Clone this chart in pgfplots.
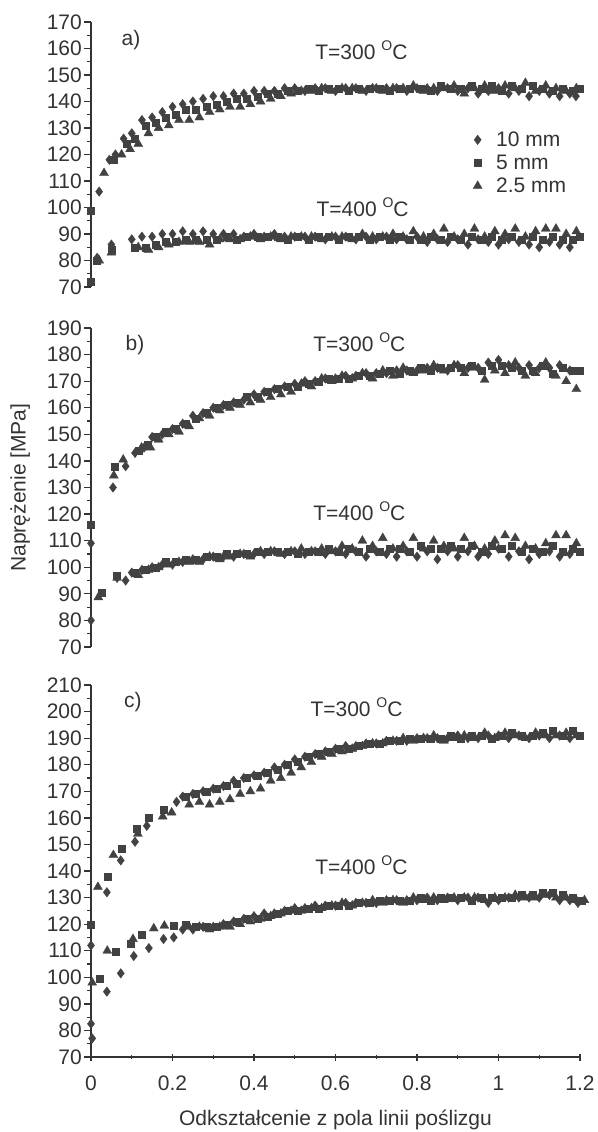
\documentclass[border=0pt]{standalone}
\usepackage{fontspec}
\setmainfont{Liberation Sans}
\usepackage{pgfplots}
\usepackage{pgfplotstable}
\pgfplotsset{compat=1.18}
\definecolor{ink}{HTML}{333333}
\definecolor{mk}{HTML}{424242}

\pgfplotstableread{
x d s t
-0.008 nan 99 nan
0.020 106 nan nan
0.016 nan nan 113
0.045 118 nan nan
0.047 nan 118 nan
0.060 120 nan nan
0.059 nan nan 120
0.080 126 124 122
0.100 128 126 124
0.125 133 131 128
0.150 134 132 130
0.175 136 134 131
0.200 138 135 133
0.225 139 137 133
0.250 140 137 134
0.275 141 138 136
0.300 142 139 137
0.325 142 140 138
0.350 143 141 138
0.375 143 141 139
0.400 144 142 140
0.425 144 143 141
0.450 144 143 142
0.475 145 144 143
0.500 145 144 144
0.525 144 145 144
0.550 145 144 145
0.575 145 145 144
0.600 144 145 145
0.625 145 144 145
0.650 145 145 144
0.675 144 145 145
0.700 145 145 144
0.725 145 144 145
0.750 145 145 145
0.775 144 145 146
0.800 145 145 144
0.825 145 144 145
0.850 144 146 145
0.875 145 145 146
0.900 144 145 143
0.925 145 146 145
0.950 143 145 146
0.975 144 146 144
1.000 145 144 146
1.025 143 146 145
1.050 144 145 147
1.075 142 146 144
1.100 144 145 146
1.125 143 144 145
1.150 142 145 144
1.175 143 144 145
1.190 142 145 nan
}\aH

\pgfplotstableread{
x d s t
-0.008 nan 72 nan
0.015 81 nan nan
0.004 nan nan 80
0.007 nan 80 nan
0.050 86 nan nan
0.042 nan 84 nan
0.034 nan nan 83
0.100 88 85 85
0.125 89 85 84
0.150 89 86 85
0.175 90 87 86
0.200 90 87 87
0.225 91 88 87
0.250 90 88 87
0.275 91 88 86
0.300 90 88 88
0.325 90 89 88
0.350 90 88 88
0.375 89 89 89
0.400 90 89 88
0.425 89 89 89
0.450 90 89 88
0.475 89 88 89
0.500 89 89 89
0.525 89 88 89
0.550 89 89 88
0.575 88 89 89
0.600 89 88 89
0.625 89 89 88
0.650 88 89 90
0.675 89 88 89
0.700 88 89 89
0.725 89 88 90
0.750 88 89 89
0.775 88 88 91
0.800 89 88 89
0.825 87 89 90
0.850 88 88 92
0.875 87 89 89
0.900 88 88 90
0.925 86 89 92
0.950 88 88 89
0.975 87 89 91
1.000 86 88 90
1.025 88 89 92
1.050 87 88 89
1.075 86 89 91
1.100 85 88 92
1.125 87 89 92
1.150 86 88 90
1.175 85 88 91
1.192 nan 89 nan
}\aL

\pgfplotstableread{
x d s t
-0.008 nan 116 nan
0.000 109 nan nan
0.054 130 nan nan
0.040 nan nan 134.5
0.050 nan 138 nan
0.063 nan nan 140.5
0.085 138 nan nan
0.108 143 144 145
0.130 145 146 145
0.150 149 149 148
0.175 150 151 150
0.200 152 152 151
0.225 154 154 153
0.250 157 156 156
0.275 158 158 157
0.300 160 160 159
0.325 161 161 160
0.350 162 162 161
0.375 163 164 162
0.400 165 164 163
0.425 166 166 164
0.450 167 167 165
0.475 168 168 166
0.500 169 168 169
0.525 170 169 168
0.550 170 170 171
0.575 171 171 170
0.600 171 171 172
0.625 172 171 171
0.650 172 172 173
0.675 173 172 171
0.700 173 173 174
0.725 173 174 172
0.750 174 173 175
0.775 174 174 173
0.800 174 175 174
0.825 175 174 176
0.850 175 175 174
0.875 174 175 176
0.900 176 175 173
0.925 175 176 175
0.950 175 174 170.5
0.975 177 176 174
1.000 178 176 173
1.025 176 175 177
1.050 175 174 172
1.075 176 174 173
1.100 175 176 177
1.125 175 173 172
1.150 176 175 170
1.175 174 174 167
1.192 nan 174 nan
}\bH

\pgfplotstableread{
x d s t
0.000 80 nan nan
0.018 nan 90.6 nan
0.002 nan nan 88.7
0.064 96 nan nan
0.056 nan 97 nan
0.048 nan nan 96
0.085 95 nan nan
0.100 98 98 97
0.125 99 99 99
0.150 100 100 100
0.175 101 102 101
0.200 101 102 102
0.225 102 103 102
0.250 103 103 102
0.275 103 104 104
0.300 104 104 103
0.325 104 105 104
0.350 104 105 105
0.375 105 105 104
0.400 105 106 106
0.425 105 106 106
0.450 106 106 105
0.475 105 106 106
0.500 106 105 107
0.525 105 106 106
0.550 106 106 107
0.575 105 107 106
0.600 106 106 108
0.625 105 107 107
0.650 106 106 110
0.675 104 107 108
0.700 106 106 111
0.725 105 107 107
0.750 104 107 108
0.775 106 106 111
0.800 104 108 107
0.825 106 107 110
0.850 103 107 108
0.875 106 108 107
0.900 104 107 111
0.925 106 108 108
0.950 104 106 107
0.975 105 108 110
1.000 107 107 112
1.025 104 108 111
1.050 106 106 108
1.075 103 107 107
1.100 105 106 109
1.125 106 108 112
1.150 104 106 112
1.175 105 107 109
1.192 nan 106 nan
}\bL

\pgfplotstableread{
x d s t
0.001 nan nan 134
0.039 132 nan nan
0.034 nan 138 nan
0.039 nan nan 146
0.073 144 nan nan
0.067 nan 148.5 nan
0.108 151 nan nan
0.105 nan 156 nan
0.099 nan nan 154
0.137 157 nan nan
0.134 nan 160 nan
0.160 nan nan 160.5
0.171 nan 163 nan
0.182 nan nan 162
0.210 166 nan nan
0.225 168 168 165
0.250 169 169 166
0.275 170 170 165
0.300 171 171 166
0.325 172 172 167
0.350 174 173 169
0.375 175 175 170
0.400 176 176 171
0.425 177 177 174
0.450 179 178 175
0.475 180 180 177
0.500 182 181 179
0.525 183 183 181
0.550 184 184 183
0.575 185 185 184
0.600 186 186 185
0.625 187 186 186
0.650 187 187 187
0.675 188 188 188
0.700 188 188 188
0.725 189 189 189
0.750 189 189 190
0.775 189 190 189
0.800 190 190 190
0.825 190 190 191
0.850 190 190 189
0.875 190 191 190
0.900 191 190 191
0.925 190 191 190
0.950 190 191 192
0.975 191 190 190
1.000 191 191 192
1.025 190 192 191
1.050 191 191 190
1.075 190 191 192
1.100 191 192 191
1.125 190 193 191
1.150 191 191 192
1.175 190 193 191
1.192 nan 191 nan
}\cH

\pgfplotstableread{
x d s t
-0.008 nan 120 nan
0.000 112 nan nan
-0.013 nan nan 98
0.012 nan 99.4 nan
0.000 82.5 nan nan
0.003 77 nan nan
0.039 94.6 nan nan
0.024 nan nan 110
0.053 nan 109.6 nan
0.073 101.5 nan nan
0.090 nan 112.7 nan
0.087 nan nan 114.4
0.105 108 nan nan
0.116 nan 116 nan
0.142 111 nan nan
0.138 nan nan 118.4
0.178 114.4 nan nan
0.164 nan nan 119.4
0.195 nan 119.6 nan
0.203 115 nan nan
0.225 118 120 119
0.250 118 119 119
0.275 119 119 118
0.300 119 119 119
0.325 120 120 119
0.350 121 121 120
0.375 122 122 121
0.400 123 122 122
0.425 124 123 123
0.450 124 124 124
0.475 125 125 125
0.500 126 125 125
0.525 126 126 126
0.550 127 126 126
0.575 127 127 127
0.600 127 127 128
0.625 128 127 127
0.650 128 128 128
0.675 128 128 129
0.700 128 129 128
0.725 129 129 129
0.750 129 129 128
0.775 129 129 130
0.800 129 130 129
0.825 130 129 130
0.850 129 130 129
0.875 130 130 130
0.900 129 130 130
0.925 130 129 130
0.950 130 130 129
0.975 128 130 130
1.000 129 130 130
1.025 130 130 131
1.050 130 131 130
1.075 130 131 130
1.100 130 132 131
1.125 131 132 130
1.150 129 131 130
1.175 129 130 129
1.195 128 129 129
}\cL

\newcommand\fs{\fontsize{21}{24}\selectfont}
\newcommand\degC{\raisebox{0.42em}{\fontsize{14}{14}\selectfont O}C}

\pgfplotsset{
  panel/.style={
    scale only axis, width=489pt, xmin=0, xmax=1.2, clip=false,
    axis y line=left,
    axis line style={-, ink, line width=1.3pt},
    every non boxed x axis/.append style={x axis line style=-},
    every non boxed y axis/.append style={y axis line style=-},
    tick align=outside, major tick length=7pt, minor tick length=4pt,
    major tick style={ink, line width=1.3pt},
    minor tick style={ink, line width=1.1pt},
    ytick distance=10, minor y tick num=1,
    tick label style={font=\fs, text=ink},
    yticklabel style={inner sep=2pt},
    /pgf/number format/assume math mode=true,
  },
  sD/.style={only marks, mark=diamond*, mark size=4.8pt, mark options={fill=mk, draw=mk, line width=0.3pt}},
  sS/.style={only marks, mark=square*, mark size=3.5pt, mark options={fill=mk, draw=mk, line width=0.3pt}},
  sT/.style={only marks, mark=triangle*, mark size=5.2pt, mark options={fill=mk, draw=mk, line width=0.3pt}},
}

\begin{document}
\begin{tikzpicture}
\useasboundingbox (0pt,0pt) rectangle (597pt,-1132pt);

% ---------- panel a ----------
\begin{axis}[panel, at={(91pt,-287pt)}, anchor=south west, height=265pt,
  ymin=70, ymax=170, axis x line=none,
  legend style={draw=none, fill=none, at={(axis cs:0.93,129.8)}, anchor=north west,
    font=\fs, text=ink, row sep=5pt, legend cell align=left,
    nodes={inner sep=1pt},
    /tikz/every odd column/.append style={column sep=13pt}}]
\addplot[sD] table[x=x, y=d]{\aH};
\addplot[sS] table[x expr=\thisrow{x}+0.008, y=s]{\aH};
\addplot[sT] table[x expr=\thisrow{x}+0.016, y=t]{\aH};
\addplot[sD] table[x=x, y=d]{\aL};
\addplot[sS] table[x expr=\thisrow{x}+0.008, y=s]{\aL};
\addplot[sT] table[x expr=\thisrow{x}+0.016, y=t]{\aL};
\legend{10 mm, 5 mm, 2.5 mm}
\node[font=\fs, text=ink] at (axis cs:0.098,163.2) {a)};
\node[font=\fs, text=ink, anchor=west] at (axis cs:0.542,159.4) {T=300 \degC};
\node[font=\fs, text=ink, anchor=west] at (axis cs:0.545,100.2) {T=400 \degC};
\end{axis}

% ---------- panel b ----------
\begin{axis}[panel, at={(91pt,-647pt)}, anchor=south west, height=319pt,
  ymin=70, ymax=190, axis x line=none]
\addplot[sD] table[x=x, y=d]{\bH};
\addplot[sS] table[x expr=\thisrow{x}+0.008, y=s]{\bH};
\addplot[sT] table[x expr=\thisrow{x}+0.016, y=t]{\bH};
\addplot[sD] table[x=x, y=d]{\bL};
\addplot[sS] table[x expr=\thisrow{x}+0.008, y=s]{\bL};
\addplot[sT] table[x expr=\thisrow{x}+0.016, y=t]{\bL};
\node[font=\fs, text=ink] at (axis cs:0.108,183.5) {b)};
\node[font=\fs, text=ink, anchor=west] at (axis cs:0.537,184.7) {T=300 \degC};
\node[font=\fs, text=ink, anchor=west] at (axis cs:0.537,121.1) {T=400 \degC};
\node[font=\fontsize{21}{24}\selectfont, text=ink, rotate=90] at (rel axis cs:-0.145,0.5) {Naprężenie [MPa]};
\end{axis}

% ---------- panel c ----------
\begin{axis}[panel, at={(91pt,-1057pt)}, anchor=south west, height=372pt,
  ymin=70, ymax=210, axis x line=bottom,
  xtick={0,0.2,0.4,0.6,0.8,1,1.2},
  xticklabels={0,0.2,0.4,0.6,0.8,1,1.2},
  minor x tick num=1,
  xticklabel style={yshift=-12pt}]
\addplot[sD] table[x=x, y=d]{\cH};
\addplot[sS] table[x expr=\thisrow{x}+0.008, y=s]{\cH};
\addplot[sT] table[x expr=\thisrow{x}+0.016, y=t]{\cH};
\addplot[sD] table[x=x, y=d]{\cL};
\addplot[sS] table[x expr=\thisrow{x}+0.008, y=s]{\cL};
\addplot[sT] table[x expr=\thisrow{x}+0.016, y=t]{\cL};
\node[font=\fs, text=ink] at (axis cs:0.103,203.5) {c)};
\node[font=\fs, text=ink, anchor=west] at (axis cs:0.53,201.6) {T=300 \degC};
\node[font=\fs, text=ink, anchor=west] at (axis cs:0.542,142.2) {T=400 \degC};
\node[font=\fs, text=ink] at (rel axis cs:0.5,-0.17) {Odkształcenie z pola linii poślizgu};
\end{axis}
\end{tikzpicture}
\end{document}
